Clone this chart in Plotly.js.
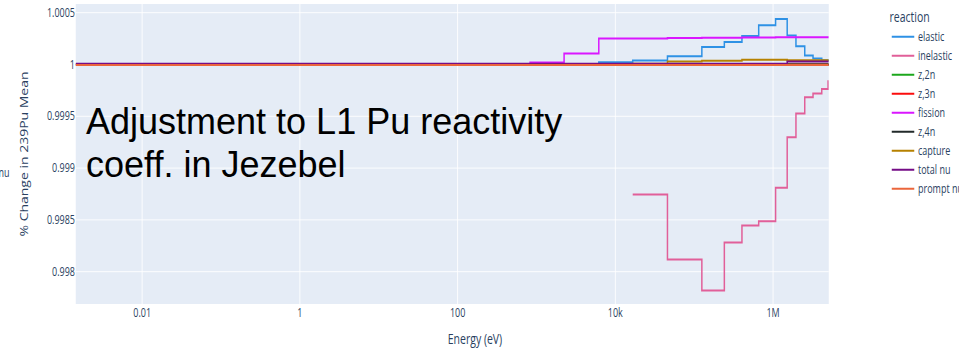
<!DOCTYPE html>
<html>
<head>
<meta charset="utf-8">
<script src="https://cdn.plot.ly/plotly-3.0.1.min.js"></script>
<style>
  html, body { margin: 0; padding: 0; background: #ffffff; }
  body { width: 959px; height: 349px; overflow: hidden; position: relative; }
  #plot { position: absolute; left: 0; top: 0; width: 1279px; height: 349px; transform: scaleX(0.75); transform-origin: 0 0; }
  #note { position: absolute; left: 86px; top: 101px; font-family: "Liberation Sans", Arial, Helvetica, sans-serif; font-size: 36px; line-height: 42.6px; color: #000000; white-space: nowrap; }
</style>
</head>
<body>
<div id="plot"></div>
<div id="note">Adjustment to L1 Pu reactivity<br>coeff. in Jezebel</div>
<script>
// Energy group boundaries (eV)
const energy = [0.00144, 830, 2240, 6170, 16600, 45800, 125000, 241000, 403000, 657000,
                1076000, 1510000, 1950000, 2520000, 3210000, 4140000, 4980000, 5080000];

const reactions = ['elastic', 'inelastic', 'z,2n', 'z,3n', 'fission', 'z,4n', 'capture', 'total nu', 'prompt nu'];
const colors = ['#2E91E5', '#E15F99', '#1CA71C', '#FB0D0D', '#DA16FF', '#222A2A', '#B68100', '#750D86', '#EB663B'];

const elastic   = [1, 1, 1, 1.000022, 1.000039, 1.00008, 1.00017, 1.000218, 1.000276, 1.000379,
                   1.00044, 1.00028, 1.000177, 1.000087, 1.000058, 1.00004, 1.00004, 1.00004];
const inelastic = [null, null, null, null, 0.998745, 0.998118, 0.997819, 0.998282, 0.998446, 0.998487,
                   0.998811, 0.999298, 0.999528, 0.999684, 0.99972, 0.999764, 0.999839, 0.999839];
const z2n       = [1, 1, 1, 1, 1, 1, 1, 1, 1, 1, 1, 1, 1, 1, 1, 1, 1, 1];
const z3n       = [1, 1, 1, 1, 1, 1, 1, 1, 1, 1, 1, 1, 1, 1, 1, 1, 1, 1];
const fission   = [1, 1.00002, 1.000106, 1.000251, 1.000251, 1.000255, 1.000257, 1.000258, 1.00026, 1.00026,
                   1.000262, 1.000262, 1.000262, 1.000262, 1.000262, 1.000262, 1.000262, 1.000262];
const z4n       = [1, 1, 1, 1, 1, 1, 1, 1, 1, 1, 1, 1, 1, 1, 1, 1, 1, 1];
const capture   = [1, 1, 1, 1, 1.000008, 1.00003, 1.000035, 1.000035, 1.000045, 1.000045,
                   1.000045, 1.00004, 1.00004, 1.00004, 1.00004, 1.00004, 1.00004, 1.00004];
const totalNu   = [1.000008, 1.000008, 1.000008, 1.000008, 1.000008, 1.000008, 1.000008, 1.000008, 1.000008, 1.000008,
                   1.000008, 1.000028, 1.000028, 1.000028, 1.000028, 1.000028, 1.000028, 1.000028];
const promptNu  = [0.999996, 0.999996, 0.999996, 0.999996, 0.999996, 0.999996, 0.999996, 0.999996, 0.999996, 0.999996,
                   0.999996, 0.999996, 0.999996, 0.999996, 0.999996, 0.999996, 0.999996, 0.999996];

const series = [elastic, inelastic, z2n, z3n, fission, z4n, capture, totalNu, promptNu];

const xTitle = 'Energy (eV)';
const yTitle = '% Change in 239Pu Mean';
const legendTitle = 'reaction';

const traces = reactions.map((name, i) => ({
  type: 'scatter',
  mode: 'lines',
  name: name,
  x: energy,
  y: series[i],
  line: { color: colors[i], width: 2, shape: 'hv' },
  connectgaps: false
}));

const layout = {
  width: 1279,
  height: 349,
  margin: { l: 101, r: 174, t: 4, b: 45, autoexpand: false },
  paper_bgcolor: '#ffffff',
  plot_bgcolor: '#E5ECF6',
  font: { family: '"Open Sans", verdana, arial, sans-serif', size: 12, color: '#2a3f5f' },
  showlegend: true,
  legend: {
    title: { text: legendTitle },
    x: 1.0787, xanchor: 'left', y: 1, yanchor: 'top',
    bgcolor: 'rgba(0,0,0,0)'
  },
  xaxis: {
    type: 'log',
    range: [Math.log10(0.00144), Math.log10(5080000)],
    dtick: 2,
    gridcolor: '#ffffff',
    linecolor: '#ffffff',
    ticks: '',
    zeroline: false,
    automargin: false,
    showline: false
  },
  yaxis: {
    range: [0.997688, 1.000584],
    dtick: 0.0005,
    gridcolor: '#ffffff',
    ticks: '',
    zeroline: false,
    automargin: false,
    title: { text: yTitle, font: { size: 14 }, standoff: 21 }
  },
  annotations: [
    { text: xTitle, xref: 'paper', yref: 'paper', x: 0.5302, y: -0.115, xanchor: 'center', yanchor: 'middle',
      showarrow: false, font: { size: 14, color: '#2a3f5f' } },
    { text: 'nu', xref: 'paper', yref: 'paper', x: -0.0857, y: 0.4367, xanchor: 'right', yanchor: 'middle',
      showarrow: false, font: { size: 12, color: '#2a3f5f' } }
  ]
};

Plotly.newPlot('plot', traces, layout, { displayModeBar: false, responsive: false });
</script>
</body>
</html>
